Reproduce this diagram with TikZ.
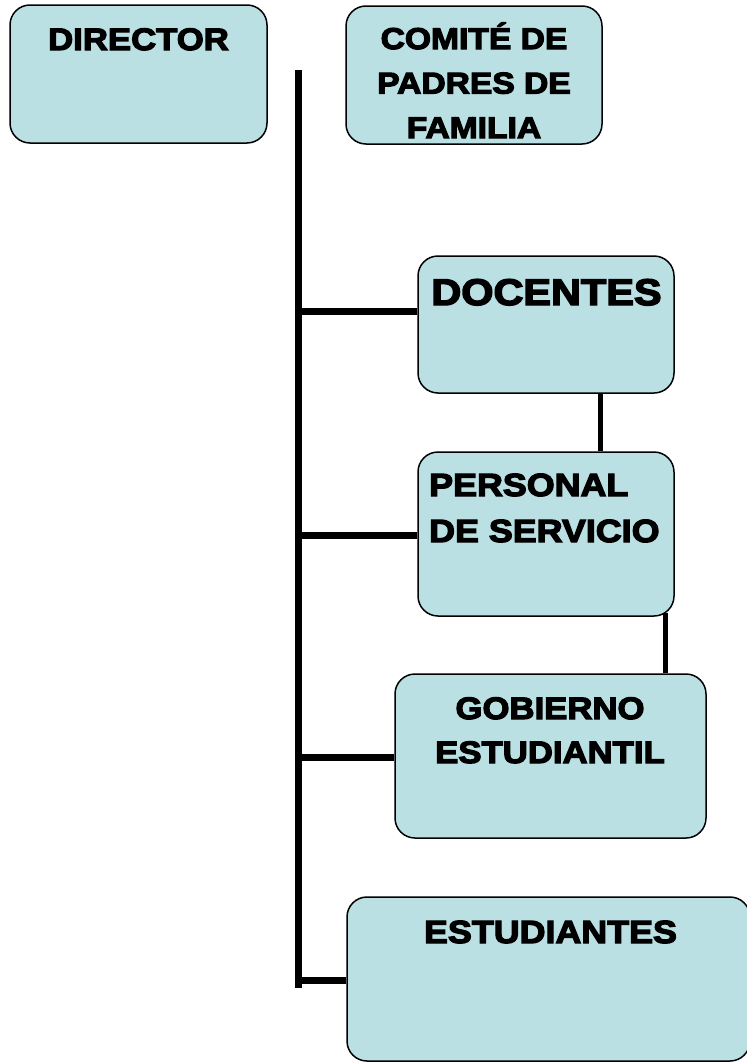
\documentclass[tikz,border=0pt]{standalone}
\usepackage{fontspec}
\usepackage{xcolor}
\usepackage{tikz}
\newfontfamily\blackfont{Liberation Sans}[UprightFont={* Bold},FakeStretch=1.12,FakeBold=4]
\newcommand\orgfont[2]{\blackfont\fontsize{#1}{#2}\selectfont}
\definecolor{boxblue}{RGB}{187,224,227}
\tikzset{
  unit/.style={draw=black,line width=1.5pt,fill=boxblue,rounded corners=20pt},
  boxtext/.style={anchor=base,align=center},
  spine/.style={line width=7pt},
  link/.style={line width=5pt}
}

\begin{document}
\begin{tikzpicture}[x=1pt,y=1pt]
                \tikzstyle{every node}+=[inner sep=0pt]
                \useasboundingbox (0,0) rectangle (747,-1063);
                \node[unit,minimum width=257,minimum height=138] (director) at (138.5,-74) {};
                \node[unit,minimum width=256,minimum height=138] (comite) at (474,-75) {};
                \node[unit,minimum width=256,minimum height=137] (docentes) at (546,-324.5) {};
                \node[unit,minimum width=256,minimum height=164] (personal) at (546,-534) {};
                \node[unit,minimum width=311,minimum height=164] (gobierno) at (550.5,-756) {};
                \node[unit,minimum width=403,minimum height=164] (estudiantes) at (548.5,-979) {};
                \node[boxtext,font=\orgfont{31}{44.5}] (director text) at (138.5,-50) {DIRECTOR};
                \node[boxtext,font=\orgfont{30}{44.5}] (comite text) at (474,-138) {COMITÉ DE\\PADRES DE\\FAMILIA};
                \node[boxtext,font=\orgfont{37}{44}] (docentes text) at (546.5,-305) {DOCENTES};
                \node[boxtext,align=left,anchor=base west,font=\orgfont{32}{46}] (personal text) at (429,-542) {PERSONAL\\DE SERVICIO};
                \node[boxtext,font=\orgfont{31}{44}] (gobierno text) at (550,-763) {GOBIERNO\\ESTUDIANTIL};
                \node[boxtext,font=\orgfont{32}{44}] (estudiantes text) at (550.5,-943) {ESTUDIANTES};
                \coordinate (top) at (298,-70);
                \coordinate (bottom) at (298,-988);
                \draw[spine] (top) -- (bottom);
                \coordinate (b1) at (298,-311);
                \coordinate (b2) at (298,-535);
                \coordinate (b3) at (298,-757);
                \coordinate (b4) at (298,-980);
                \draw[spine] (b1) -- (b1 -| docentes.west);
                \draw[spine] (b2) -- (b2 -| personal.west);
                \draw[spine] (b3) -- (b3 -| gobierno.west);
                \draw[spine] (b4) -- (b4 -| estudiantes.west);
                \draw[link] ([xshift=54]docentes.south) -- ([xshift=54]personal.north);
                \draw[link] ([xshift=119,yshift=4]personal.south) -- ([xshift=119]personal.south |- gobierno.north);
\end{tikzpicture}
\end{document}
